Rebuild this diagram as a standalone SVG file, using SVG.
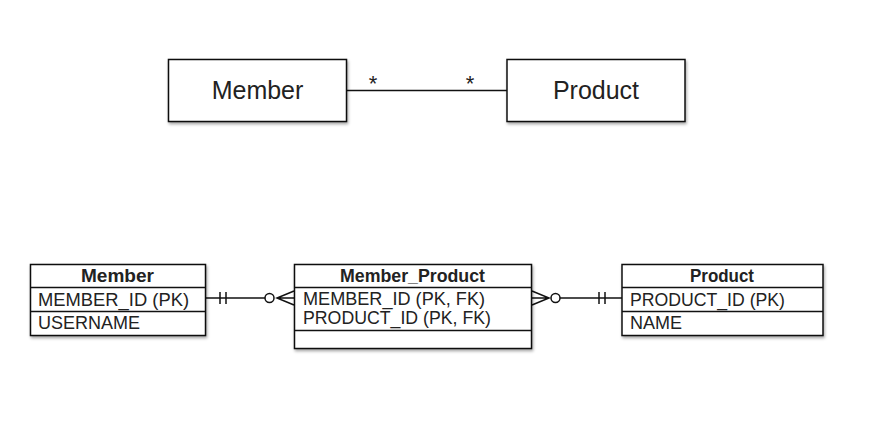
<svg xmlns="http://www.w3.org/2000/svg" width="888" height="426" viewBox="0 0 888 426">
<defs>
<filter id="sh" x="-10%" y="-10%" width="120%" height="130%">
<feDropShadow dx="1" dy="2" stdDeviation="1.5" flood-color="#000" flood-opacity="0.35"/>
</filter>
</defs>
<style>
.box{fill:#fff;stroke:#111;stroke-width:1.5}
.ln{stroke:#111;stroke-width:1.5;fill:none}
.t{font-family:"Liberation Sans",Arial,sans-serif;fill:#222}
.big{font-size:25px}
.f{font-size:19px}
.h{font-size:19px;font-weight:bold}
.star{font-size:22px}
</style>
<rect width="888" height="426" fill="#fff"/>
<g id="connectors">
<line class="ln" x1="346" y1="90.5" x2="507" y2="90.5"/>
<text class="t star" x="373" y="91" text-anchor="middle">*</text>
<text class="t star" x="470" y="91" text-anchor="middle">*</text>
<g id="c1">
<line class="ln" x1="205" y1="298" x2="265" y2="298"/>
<line class="ln" x1="220" y1="292" x2="220" y2="304"/>
<line class="ln" x1="226" y1="292" x2="226" y2="304"/>
<circle class="ln" cx="269.5" cy="298" r="4.5"/>
<path class="ln" d="M294 291 L277 298 L294 305 M277 298 L294 298"/>
</g>
<g id="c2">
<line class="ln" x1="560" y1="298" x2="622" y2="298"/>
<line class="ln" x1="599" y1="292" x2="599" y2="304"/>
<line class="ln" x1="605" y1="292" x2="605" y2="304"/>
<circle class="ln" cx="555.5" cy="298" r="4.5"/>
<path class="ln" d="M532 291 L549 298 L532 305 M549 298 L532 298"/>
</g>
</g>
<g id="member">
<rect class="box" x="168.5" y="59.5" width="178" height="62" filter="url(#sh)"/>
<text class="t big" x="257.5" y="99" text-anchor="middle">Member</text>
</g>
<g id="product">
<rect class="box" x="507" y="59.5" width="178" height="62" filter="url(#sh)"/>
<text class="t big" x="596" y="99" text-anchor="middle">Product</text>
</g>
<g id="member-table">
<rect class="box" x="30.5" y="264.5" width="175" height="71" filter="url(#sh)"/>
<line class="ln" x1="30.5" y1="287.5" x2="205.5" y2="287.5"/>
<line class="ln" x1="30.5" y1="311.5" x2="205.5" y2="311.5"/>
<text class="t h" x="81" y="282" textLength="73" lengthAdjust="spacingAndGlyphs">Member</text>
<text class="t f" x="38" y="305.5" textLength="151" lengthAdjust="spacingAndGlyphs">MEMBER_ID (PK)</text>
<text class="t f" x="38" y="329" textLength="102" lengthAdjust="spacingAndGlyphs">USERNAME</text>
</g>
<g id="member-product-table">
<rect class="box" x="294.5" y="264.5" width="237" height="84" filter="url(#sh)"/>
<line class="ln" x1="294.5" y1="287.5" x2="531.5" y2="287.5"/>
<line class="ln" x1="294.5" y1="330.5" x2="531.5" y2="330.5"/>
<text class="t h" x="340" y="282" textLength="145" lengthAdjust="spacingAndGlyphs">Member_Product</text>
<text class="t f" x="303" y="304.5" textLength="182" lengthAdjust="spacingAndGlyphs">MEMBER_ID (PK, FK)</text>
<text class="t f" x="303" y="324" textLength="188" lengthAdjust="spacingAndGlyphs">PRODUCT_ID (PK, FK)</text>
</g>
<g id="product-table">
<rect class="box" x="622" y="264.5" width="201" height="71" filter="url(#sh)"/>
<line class="ln" x1="622" y1="287.5" x2="823" y2="287.5"/>
<line class="ln" x1="622" y1="311.5" x2="823" y2="311.5"/>
<text class="t h" x="690" y="282" textLength="64" lengthAdjust="spacingAndGlyphs">Product</text>
<text class="t f" x="630" y="305.5" textLength="155" lengthAdjust="spacingAndGlyphs">PRODUCT_ID (PK)</text>
<text class="t f" x="630" y="329" textLength="52" lengthAdjust="spacingAndGlyphs">NAME</text>
</g>
</svg>
